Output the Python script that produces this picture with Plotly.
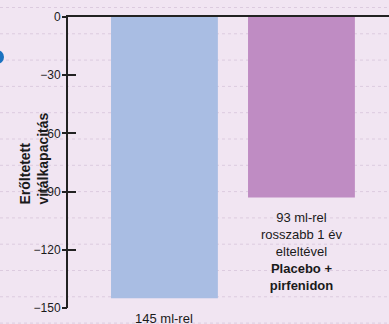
import plotly.graph_objects as go

# Decline in forced vital capacity after one year (ml)
groups = ["Placebo", "Placebo + pirfenidon"]
decline = [-145, -93]
bar_colors = ["#a9bde3", "#bf8cc3"]
bar_notes = [
    "145 ml-rel",
    "93 ml-rel<br>rosszabb 1 év<br>elteltével<br><b>Placebo +</b><br><b>pirfenidon</b>",
]
y_ticks = [0, -30, -60, -90, -120, -150]

W, H = 389, 324
ML, MR, MT, MB = 68, 0, 17, 16
PW, PH = W - ML - MR, H - MT - MB
BG = "#f1e5f2"
FONT = "Liberation Sans, Arial, sans-serif"


def px_x(p):
    return (p - ML) / PW


def px_y(p):
    return (H - MB - p) / PH


fig = go.Figure()
fig.add_trace(go.Bar(
    x=[0, 1],
    y=decline,
    marker=dict(color=bar_colors, line=dict(width=0)),
    width=0.78,
    hoverinfo="skip",
))
# invisible trace that carries the outer half of the tick marks
fig.add_trace(go.Scatter(x=[0], y=[0], yaxis="y2", mode="markers",
                         marker=dict(opacity=0), hoverinfo="skip"))

# notes under each bar
for i, (v, note) in enumerate(zip(decline, bar_notes)):
    fig.add_annotation(
        x=i, y=v, text=note, showarrow=False, xanchor="center", yanchor="top",
        yshift=-11, align="center",
        font=dict(family=FONT, size=13, color="#1a1a1a"),
    )

# notebook-style dotted ruling behind the chart
shapes = []
y0 = 7.5
step = 26.3
k = 0
while y0 + k * step < H:
    yp = y0 + k * step
    shapes.append(dict(
        type="line", xref="paper", yref="paper", layer="below",
        x0=px_x(0), x1=px_x(W), y0=px_y(yp), y1=px_y(yp),
        line=dict(color="#dccbdf", width=1, dash="dot"),
    ))
    k += 1

# blue bullet at the left edge
shapes.append(dict(
    type="circle", xref="paper", yref="paper", layer="above",
    x0=px_x(-10), x1=px_x(4), y0=px_y(64), y1=px_y(50),
    fillcolor="#1b72c0", line=dict(width=0),
))

fig.add_annotation(
    xref="paper", yref="paper", x=px_x(33.5), y=px_y(207),
    xanchor="center", yanchor="bottom", textangle=-90, align="left",
    text="<b>Erőltetett</b><br><b>vitálkapacitás</b>", showarrow=False,
    font=dict(family=FONT, size=14, color="#1a1a1a"),
)

fig.update_layout(
    width=W, height=H,
    margin=dict(l=ML, r=MR, t=MT, b=MB, pad=0),
    paper_bgcolor=BG, plot_bgcolor="rgba(0,0,0,0)",
    showlegend=False,
    shapes=shapes,
    xaxis=dict(
        range=[-0.704, 1.639], side="top", showline=True, linecolor="#222222",
        linewidth=2, showticklabels=False, ticks="", showgrid=False, zeroline=False,
    ),
    yaxis=dict(
        range=[-150, 0], tickvals=y_ticks, showline=True, linecolor="#222222",
        linewidth=2, ticks="inside", ticklen=8, tickwidth=2, tickcolor="#222222",
        showgrid=False, zeroline=False, ticklabelstandoff=3,
        tickfont=dict(family=FONT, size=12, color="#1a1a1a"),
    ),
    yaxis2=dict(
        range=[-150, 0], tickvals=y_ticks, overlaying="y", side="left",
        showline=False, ticks="outside", ticklen=5, tickwidth=2,
        tickcolor="#222222", showticklabels=False, showgrid=False, zeroline=False,
    ),
)

fig.write_html("out.html")
